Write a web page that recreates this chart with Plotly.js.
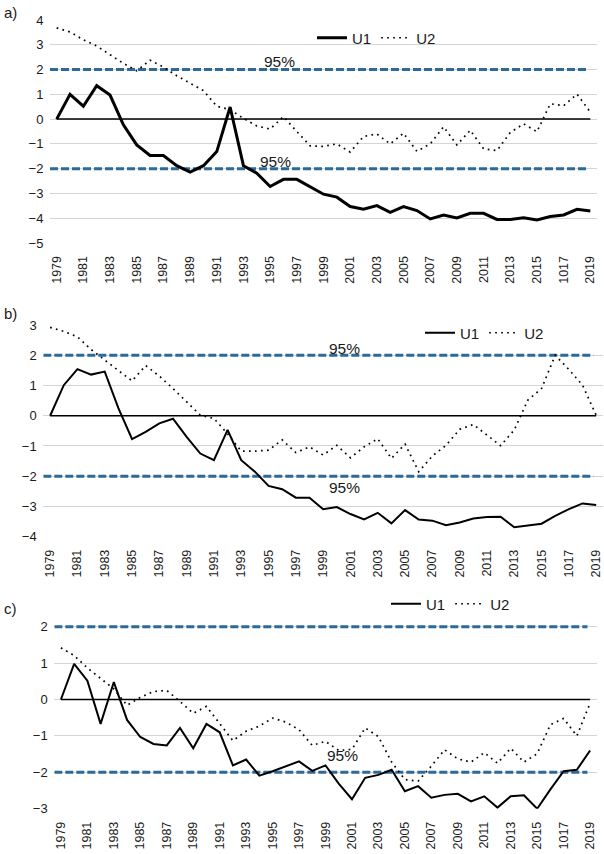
<!DOCTYPE html>
<html>
<head>
<meta charset="utf-8">
<script src="https://cdn.plot.ly/plotly-3.0.1.min.js"></script>
<style>
  html, body { margin: 0; padding: 0; background: #fff; }
  #chart { width: 604px; height: 854px; }
</style>
</head>
<body>
<div id="chart"></div>
<script>
/* Tres painéis (a, b, c) com as séries U1 (linha cheia) e U2 (pontilhada),
   limites de 95% em ±2 e linha do zero. */

var years = [1979, 1980, 1981, 1982, 1983, 1984, 1985, 1986, 1987, 1988,
             1989, 1990, 1991, 1992, 1993, 1994, 1995, 1996, 1997, 1998,
             1999, 2000, 2001, 2002, 2003, 2004, 2005, 2006, 2007, 2008,
             2009, 2010, 2011, 2012, 2013, 2014, 2015, 2016, 2017, 2018, 2019];

var tickYears = [1979, 1981, 1983, 1985, 1987, 1989, 1991, 1993, 1995, 1997, 1999,
                 2001, 2003, 2005, 2007, 2009, 2011, 2013, 2015, 2017, 2019];
var tickText  = ['1979', '1981', '1983', '1985', '1987', '1989', '1991', '1993', '1995', '1997', '1999',
                 '2001', '2003', '2005', '2007', '2009', '2011', '2013', '2015', '1017', '2019'];

var critLevels = [2, -2];

var aU1 = [0, 1.0, 0.52, 1.35, 0.97, -0.23, -1.04, -1.47, -1.47, -1.88,
           -2.14, -1.88, -1.31, 0.49, -1.88, -2.18, -2.72, -2.43, -2.43, -2.74,
           -3.03, -3.15, -3.53, -3.64, -3.49, -3.76, -3.53, -3.69, -4.03, -3.87,
           -3.99, -3.80, -3.80, -4.05, -4.05, -3.98, -4.07, -3.93, -3.87, -3.64, -3.71];
var aU2 = [3.68, 3.52, 3.2, 2.95, 2.6, 2.25, 1.95, 2.38, 2.1, 1.75,
           1.45, 1.15, 0.52, 0.38, 0.03, -0.28, -0.4, 0.1, -0.5, -1.08,
           -1.1, -1.0, -1.33, -0.7, -0.6, -1.0, -0.57, -1.3, -1.0, -0.31,
           -1.04, -0.45, -1.2, -1.27, -0.54, -0.19, -0.51, 0.62, 0.54, 1.01, 0.28];

var bU1 = [0, 1.01, 1.54, 1.36, 1.46, 0.25, -0.77, -0.53, -0.25, -0.1,
           -0.7, -1.25, -1.47, -0.47, -1.47, -1.85, -2.32, -2.43, -2.71, -2.71,
           -3.09, -3.02, -3.25, -3.43, -3.21, -3.56, -3.12, -3.43, -3.47, -3.62,
           -3.53, -3.4, -3.35, -3.34, -3.69, -3.62, -3.57, -3.31, -3.09, -2.9, -2.95];
var bU2 = [2.92, 2.79, 2.61, 2.19, 1.84, 1.48, 1.15, 1.66, 1.31, 0.9,
           0.45, 0.02, -0.09, -0.6, -1.17, -1.17, -1.14, -0.8, -1.22, -1.03,
           -1.3, -0.98, -1.39, -1.03, -0.76, -1.41, -0.94, -1.85, -1.33, -0.98,
           -0.45, -0.29, -0.64, -0.99, -0.47, 0.52, 0.9, 2.0, 1.53, 1.01, 0.02];

var cU1 = [0, 0.98, 0.52, -0.67, 0.48, -0.56, -1.03, -1.22, -1.26, -0.78,
           -1.34, -0.67, -0.9, -1.81, -1.65, -2.09, -1.97, -1.84, -1.7, -1.96,
           -1.81, -2.31, -2.74, -2.15, -2.07, -1.93, -2.52, -2.38, -2.7, -2.62,
           -2.59, -2.8, -2.66, -2.97, -2.66, -2.63, -3.0, -2.47, -1.97, -1.93, -1.4];
var cU2 = [1.42, 1.21, 0.87, 0.57, 0.29, -0.16, 0.06, 0.22, 0.25, -0.05,
           -0.38, -0.19, -0.67, -1.13, -0.87, -0.73, -0.51, -0.62, -0.83, -1.26,
           -1.15, -1.4, -1.37, -0.78, -1.02, -1.72, -2.2, -2.24, -1.83, -1.38,
           -1.63, -1.72, -1.46, -1.75, -1.34, -1.72, -1.49, -0.69, -0.52, -1.0, -0.1];

(function () {
  var FONT = 'Liberation Sans, Arial, sans-serif';
  var TXT = '#1a1a1a';
  var BLUE = '#2e6a97';
  var W = 604, H = 854;

  // painel: domínio em px (x0, x1, yTop, yBottom), faixa do eixo y, espessura U1, legenda
  var panels = [
    { key: '',  tag: 'a)', u1: aU1, u2: aU2, px: [50, 597], py: [20, 243],    range: [-5, 4], w1: 3,   leg: [312, 38],  lblX: [1995.7, 1995.4], lblY: [2.32, -1.72], tagY: 12 },
    { key: '2', tag: 'b)', u1: bU1, u2: bU2, px: [43.3, 603], py: [325, 536.7], range: [-4, 3], w1: 2,   leg: [420, 333], lblX: [2000.6, 2000.6], lblY: [2.21, -2.37], tagY: 313 },
    { key: '3', tag: 'c)', u1: cU1, u2: cU2, px: [54.3, 596.7], py: [623.1, 808.7], range: [-3, 2.1], w1: 2, leg: [386, 604], lblX: [2000.5, 2000.3], lblY: [2.32, -1.54], tagY: 608 }
  ];

  var traces = [], shapes = [], annotations = [];
  var layout = {
    width: W, height: H,
    margin: { l: 0, r: 0, t: 0, b: 0 },
    paper_bgcolor: '#fff', plot_bgcolor: '#fff',
    font: { family: FONT, color: TXT, size: 12 },
    showlegend: true
  };

  panels.forEach(function (p) {
    var xa = 'x' + p.key, ya = 'y' + p.key;
    var legName = 'legend' + p.key;

    traces.push({
      type: 'scatter', mode: 'lines', name: 'U1',
      x: years, y: p.u1, xaxis: xa, yaxis: ya, legend: legName,
      line: { color: '#000', width: p.w1 },
      cliponaxis: false, hoverinfo: 'skip'
    });
    traces.push({
      type: 'scatter', mode: 'lines', name: 'U2',
      x: years, y: p.u2, xaxis: xa, yaxis: ya, legend: legName,
      line: { color: '#000', width: 1.7, dash: '1.7px,4.3px' },
      cliponaxis: false, hoverinfo: 'skip'
    });

    layout['xaxis' + p.key] = {
      domain: [p.px[0] / W, p.px[1] / W],
      anchor: ya,
      range: [1978.5, 2019.5],
      tickmode: 'array', tickvals: tickYears, ticktext: tickText,
      tickangle: -90,
      tickfont: { size: 12.5, color: TXT, family: FONT },
      ticks: 'outside', ticklen: 7, tickcolor: 'rgba(0,0,0,0)',
      showgrid: false, zeroline: false, showline: false, fixedrange: true
    };
    layout['yaxis' + p.key] = {
      domain: [1 - p.py[1] / H, 1 - p.py[0] / H],
      anchor: xa,
      range: p.range, dtick: 1, tick0: 0,
      tickfont: { size: 13, color: TXT, family: FONT },
      ticks: 'outside', ticklen: 3, tickcolor: 'rgba(0,0,0,0)',
      gridcolor: '#d4d4d4', gridwidth: 1,
      zeroline: false, showline: false, fixedrange: true
    };

    layout[legName] = {
      orientation: 'h',
      x: p.leg[0] / W, xanchor: 'left',
      y: 1 - p.leg[1] / H, yanchor: 'middle',
      bgcolor: 'rgba(0,0,0,0)',
      font: { size: 15, color: TXT, family: FONT },
      itemwidth: 30, tracegroupgap: 0
    };

    critLevels.forEach(function (lv) {
      shapes.push({
        type: 'line', xref: xa, yref: ya,
        x0: 1978.5, x1: 2018.8, y0: lv, y1: lv,
        line: { color: BLUE, width: 3, dash: '8px,3px' }, layer: 'between'
      });
    });
    shapes.push({
      type: 'line', xref: xa, yref: ya,
      x0: years[0], x1: years[years.length - 1], y0: 0, y1: 0,
      line: { color: '#000', width: 1.5 }, layer: 'between'
    });

    [0, 1].forEach(function (k) {
      annotations.push({
        xref: xa, yref: ya, x: p.lblX[k], y: p.lblY[k],
        text: '95%', showarrow: false,
        font: { size: 15.5, color: TXT, family: FONT }
      });
    });
    annotations.push({
      xref: 'paper', yref: 'paper', x: 2 / W, y: 1 - p.tagY / H,
      xanchor: 'left', yanchor: 'middle',
      text: p.tag, showarrow: false,
      font: { size: 15, color: TXT, family: FONT }
    });
  });

  layout.shapes = shapes;
  layout.annotations = annotations;

  Plotly.newPlot('chart', traces, layout, { displayModeBar: false, staticPlot: true });
})();
</script>
</body>
</html>
